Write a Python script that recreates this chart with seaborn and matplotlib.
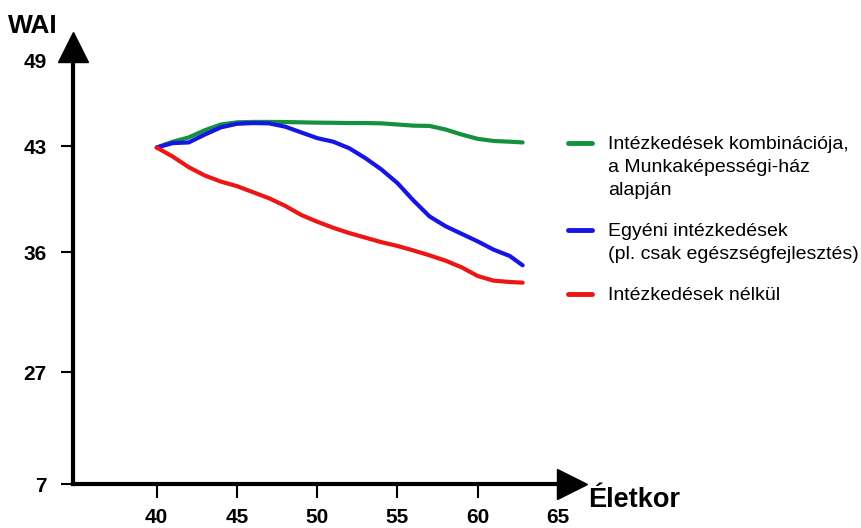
import numpy as np
import pandas as pd
import seaborn as sns
import matplotlib
matplotlib.use("Agg")
import matplotlib.pyplot as plt
from matplotlib.lines import Line2D

# ages (Életkor) and WAI values
ages = [40, 41, 42, 43, 44, 45, 46, 47, 48, 49, 50, 51, 52, 53, 54, 55, 56, 57, 58, 59, 60, 61, 62, 62.8]
wai_combined = [42.9, 43.3, 43.6, 44.1, 44.5, 44.65, 44.68, 44.68, 44.67, 44.65, 44.63, 44.62,
                44.6, 44.6, 44.58, 44.5, 44.42, 44.4, 44.15, 43.8, 43.5, 43.35, 43.3, 43.25]
wai_individual = [42.9, 43.2, 43.25, 43.8, 44.3, 44.55, 44.6, 44.58, 44.35, 43.95, 43.55, 43.3,
                  42.85, 42.2, 41.45, 40.55, 39.4, 38.35, 37.7, 37.2, 36.7, 36.15, 35.7, 35.0]
wai_none = [42.9, 42.3, 41.6, 41.05, 40.65, 40.35, 39.95, 39.55, 39.05, 38.45, 38.0, 37.6,
            37.25, 36.95, 36.65, 36.4, 36.1, 35.75, 35.35, 34.85, 34.2, 33.85, 33.75, 33.7]

labels = ["Intézkedések kombinációja,\na Munkaképességi-ház\nalapján",
          "Egyéni intézkedések\n(pl. csak egészségfejlesztés)",
          "Intézkedések nélkül"]
colors = ["#13913c", "#1515e6", "#ee1515"]

x_ticks = [40, 45, 50, 55, 60, 65]
y_ticks = [7, 27, 36, 43, 49]

df = pd.concat([
    pd.DataFrame({"age": ages, "wai": wai_combined, "series": labels[0]}),
    pd.DataFrame({"age": ages, "wai": wai_individual, "series": labels[1]}),
    pd.DataFrame({"age": ages, "wai": wai_none, "series": labels[2]}),
])

sns.set_theme(style="white")
plt.rcParams['font.family'] = ['Liberation Sans', 'DejaVu Sans']
plt.rcParams['text.color'] = 'black'
plt.rcParams['xtick.color'] = 'black'
plt.rcParams['ytick.color'] = 'black'

fig = plt.figure(figsize=(8.62, 5.28), dpi=100)
ax = fig.add_axes([73 / 862, 44 / 528, (572 - 73) / 862, (484 - 47) / 528])

# the WAI axis in the picture is not evenly spaced
y_vals = [7, 27, 36, 43, 49, 49.9]
y_pos = [0, 112, 232, 338, 424, 437]
fwd = lambda v: np.interp(v, y_vals, y_pos)
inv = lambda h: np.interp(h, y_pos, y_vals)
ax.set_yscale('function', functions=(fwd, inv))

sns.lineplot(data=df, x="age", y="wai", hue="series", palette=colors,
             linewidth=3, ax=ax, legend=False, sort=False)

ax.set_xlim(40 - (156.7 - 73) / 16.05, 40 + (572 - 156.7) / 16.05)
ax.set_ylim(7, 49.9)
ax.set_xticks(x_ticks)
ax.set_yticks(y_ticks)
ax.set_xticklabels([str(t) for t in x_ticks])
ax.set_yticklabels([str(t) for t in y_ticks])
ax.tick_params(axis='both', which='major', direction='out', width=1.5,
               color='black', labelcolor='black', labelsize=15, left=True, bottom=True)
ax.tick_params(axis='y', length=9, pad=10)
ax.tick_params(axis='x', length=10, pad=7)
for lab in ax.get_xticklabels() + ax.get_yticklabels():
    lab.set_fontweight('bold')
ax.set_xlabel("")
ax.set_ylabel("")
for s in ['top', 'right']:
    ax.spines[s].set_visible(False)
for s in ['left', 'bottom']:
    ax.spines[s].set_linewidth(3)
    ax.spines[s].set_color('black')

# arrow heads
ax.plot([1], [0], marker='>', markersize=21, color='black', transform=ax.transAxes, clip_on=False)
ax.plot([0], [1], marker='^', markersize=21, color='black', transform=ax.transAxes, clip_on=False)

fig.text(8 / 862, 1 - 33 / 528, "WAI", fontsize=19, fontweight='bold', va='baseline', ha='left')
fig.text(588 / 862, 1 - 507 / 528, "Életkor", fontsize=19.5, fontweight='bold', va='baseline', ha='left')

handles = [Line2D([0], [0], color=c, lw=3.5) for c in colors]
leg = ax.legend(handles=handles, labels=labels, loc='upper left',
                bbox_to_anchor=(568 / 862, 1 - 136 / 528), bbox_transform=fig.transFigure,
                frameon=False, fontsize=14, handlelength=1.25, handletextpad=0.82,
                labelspacing=1.22, borderaxespad=0, borderpad=0)
# keep each marker on the first line of its label
for col in leg._legend_handle_box.get_children():
    for row in col.get_children():
        row.align = 'top'
for t in leg.get_texts():
    t.set_linespacing(1.48)

plt.savefig("out.png", dpi=100)
